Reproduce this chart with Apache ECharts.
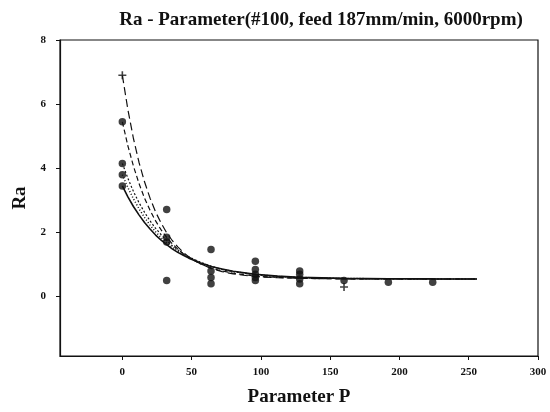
<!DOCTYPE html>
<html>
<head>
<meta charset="utf-8">
<script src="https://cdn.jsdelivr.net/npm/echarts@6/dist/echarts.min.js"></script>
<style>html,body{margin:0;padding:0;background:#fff;}#c{width:550px;height:412px;}</style>
</head>
<body>
<div id="c"></div>
<script>
// ---- data ----
const xTicks = [0, 50, 100, 150, 200, 250, 300];
const yTicks = [0, 2, 4, 6, 8];

const curveX = [0, 4, 8, 12, 16, 20, 24, 28, 32, 36, 40, 44, 48, 56, 64, 72, 80, 96, 112, 128, 160, 192, 224, 256];
const curve1 = [6.90, 5.83, 4.93, 4.19, 3.58, 3.07, 2.64, 2.29, 1.99, 1.75, 1.55, 1.38, 1.24, 1.03, 0.88, 0.78, 0.71, 0.62, 0.59, 0.57, 0.554, 0.55, 0.55, 0.55];
const curve2 = [5.45, 4.70, 4.07, 3.53, 3.07, 2.69, 2.36, 2.08, 1.85, 1.65, 1.48, 1.34, 1.22, 1.03, 0.89, 0.80, 0.73, 0.64, 0.60, 0.57, 0.556, 0.55, 0.55, 0.55];
const curve3 = [4.15, 3.69, 3.28, 2.93, 2.63, 2.36, 2.13, 1.93, 1.75, 1.59, 1.46, 1.34, 1.24, 1.08, 0.95, 0.85, 0.78, 0.68, 0.63, 0.59, 0.565, 0.555, 0.55, 0.55];
const curve4 = [3.80, 3.40, 3.05, 2.74, 2.47, 2.23, 2.02, 1.84, 1.68, 1.54, 1.42, 1.31, 1.22, 1.06, 0.94, 0.85, 0.78, 0.69, 0.63, 0.60, 0.567, 0.556, 0.552, 0.55];
const curve5 = [3.45, 3.11, 2.81, 2.55, 2.31, 2.11, 1.92, 1.76, 1.62, 1.49, 1.38, 1.29, 1.20, 1.06, 0.94, 0.86, 0.79, 0.70, 0.64, 0.60, 0.57, 0.557, 0.553, 0.551];

const dotX = [0, 0, 0, 0, 32, 32, 32, 32, 64, 64, 64, 64, 96, 96, 96, 96, 96, 128, 128, 128, 128, 160, 192, 224];
const dotY = [5.45, 4.15, 3.8, 3.45, 2.72, 1.85, 1.7, 0.5, 1.47, 0.8, 0.6, 0.4, 1.1, 0.85, 0.7, 0.6, 0.5, 0.8, 0.7, 0.55, 0.4, 0.5, 0.45, 0.45];
const crossX = [0, 160];
const crossY = [6.9, 0.3];

// ---- chart ----
const serif = 'Liberation Serif';
const zip = (xs, ys) => xs.map((x, i) => [x, ys[i]]);
const curveStyles = [
  { type: [8, 4], width: 1.2 },
  { type: [5, 3], width: 1.2 },
  { type: [2, 2], width: 1.2 },
  { type: [1, 2], width: 1.5 },
  { type: 'solid', width: 1.6 }
];
const curves = [curve1, curve2, curve3, curve4, curve5];

const chart = echarts.init(document.getElementById('c'), null, { renderer: 'canvas' });
chart.setOption({
  animation: false,
  backgroundColor: '#fff',
  title: {
    text: 'Ra - Parameter(#100, feed 187mm/min, 6000rpm)',
    left: 316, top: 6, textAlign: 'center',
    textStyle: { fontFamily: serif, fontWeight: 'bold', fontSize: 19, color: '#111' }
  },
  grid: { left: 60, right: 12, top: 40, bottom: 50, show: true, borderColor: '#111', borderWidth: 1.2, backgroundColor: 'transparent' },
  xAxis: {
    type: 'value', min: -45, max: 300,
    name: 'Parameter P', nameLocation: 'middle', nameGap: 32,
    nameTextStyle: { fontFamily: serif, fontWeight: 'bold', fontSize: 19, color: '#111' },
    axisLine: { show: true, onZero: false, lineStyle: { color: '#111', width: 1.2 } },
    axisTick: { show: true, length: 4, customValues: xTicks, lineStyle: { color: '#111' } },
    axisLabel: { customValues: xTicks, fontFamily: serif, fontWeight: 'bold', fontSize: 11, color: '#111', margin: 11 },
    splitLine: { show: false }
  },
  yAxis: {
    type: 'value', min: -1.85, max: 8,
    name: 'Ra', nameLocation: 'middle', nameGap: 29, nameRotate: 90,
    nameTextStyle: { fontFamily: serif, fontWeight: 'bold', fontSize: 19, color: '#111' },
    axisLine: { show: true, onZero: false, lineStyle: { color: '#111', width: 1.2 } },
    axisTick: { show: true, length: 4, customValues: yTicks, lineStyle: { color: '#111' } },
    axisLabel: { customValues: yTicks, fontFamily: serif, fontWeight: 'bold', fontSize: 11, color: '#111', margin: 14 },
    splitLine: { show: false }
  },
  series: [
    ...curves.map((c, i) => ({
      type: 'line', data: zip(curveX, c), showSymbol: false, symbol: 'none',
      smooth: false,
      lineStyle: Object.assign({ color: '#111' }, curveStyles[i]), z: 2
    })),
    {
      type: 'scatter', data: zip(dotX, dotY), symbol: 'circle', symbolSize: 7.5,
      itemStyle: { color: '#111' }, z: 3
    },
    {
      type: 'scatter', data: zip(crossX, crossY),
      symbol: 'path://M4,0H6V4H10V6H6V10H4V6H0V4H4Z', symbolSize: 8,
      itemStyle: { color: '#111' }, z: 3
    }
  ]
});
</script>
</body>
</html>
